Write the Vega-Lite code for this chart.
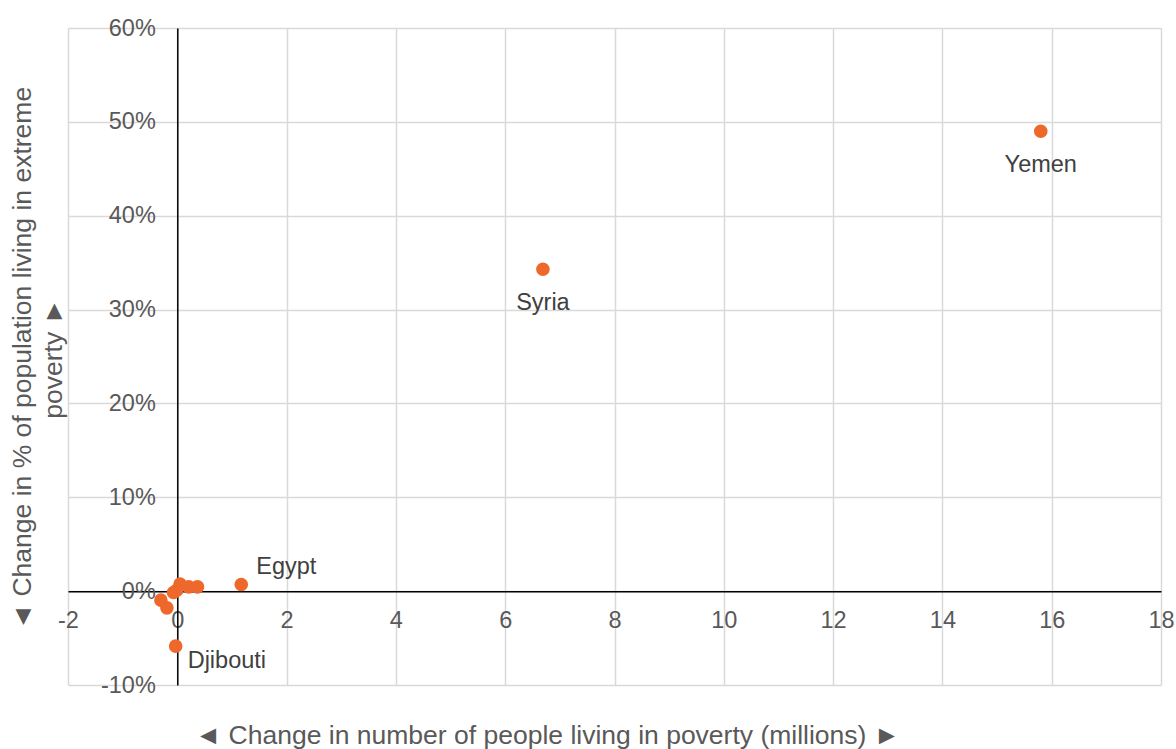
{
  "$schema": "https://vega.github.io/schema/vega-lite/v6.json",
  "autosize": {"type": "none"},
  "width": 1093,
  "height": 657,
  "padding": {"left": 68, "top": 28, "right": 15, "bottom": 64},
  "background": "white",
  "config": {
    "view": {"stroke": null},
    "font": "Liberation Sans",
    "axis": {
      "grid": true,
      "gridColor": "#d9d9d9",
      "gridWidth": 1.5,
      "domainColor": "#000000",
      "domainWidth": 1.5,
      "ticks": false,
      "tickSize": 0,
      "labelFont": "Liberation Sans",
      "labelFontSize": 23.5,
      "labelColor": "#595959",
      "labelFlush": false,
      "labelOverlap": false,
      "titleFont": "Liberation Sans",
      "titleFontSize": 26.5,
      "titleFontWeight": "normal",
      "titleColor": "#595959"
    }
  },
  "data": {
    "values": [
      {"country": "Yemen", "dpeople": 15.8, "dshare": 0.49},
      {"country": "Syria", "dpeople": 6.69, "dshare": 0.343},
      {"country": "Egypt", "dpeople": 1.17, "dshare": 0.0071},
      {"country": "Djibouti", "dpeople": -0.03, "dshare": -0.0586},
      {"country": "", "dpeople": 0.05, "dshare": 0.0075},
      {"country": "", "dpeople": 0.21, "dshare": 0.0046},
      {"country": "", "dpeople": 0.37, "dshare": 0.0046},
      {"country": "", "dpeople": -0.01, "dshare": 0.001},
      {"country": "", "dpeople": -0.07, "dshare": -0.0015},
      {"country": "", "dpeople": -0.3, "dshare": -0.0096},
      {"country": "", "dpeople": -0.19, "dshare": -0.0178}
    ]
  },
  "encoding": {
    "x": {
      "field": "dpeople",
      "type": "quantitative",
      "scale": {"domain": [-2, 18], "nice": false, "zero": false},
      "axis": {
        "values": [-2, 0, 2, 4, 6, 8, 10, 12, 14, 16, 18],
        "labelExpr": "replace(datum.label, '−', '-')",
        "offset": -93.86,
        "labelPadding": 17,
        "title": "◄ Change in number of people living in poverty (millions) ►",
        "titleX": 479,
        "titleY": 152,
        "titleAlign": "center",
        "titleBaseline": "alphabetic",
        "titleAnchor": null
      }
    },
    "y": {
      "field": "dshare",
      "type": "quantitative",
      "scale": {"domain": [-0.1, 0.6], "nice": false, "zero": false},
      "axis": {
        "values": [-0.1, 0, 0.1, 0.2, 0.3, 0.4, 0.5, 0.6],
        "format": ".0%",
        "labelExpr": "replace(datum.label, '−', '-')",
        "offset": -109.3,
        "labelPadding": 22,
        "title": ["◄ Change in % of population living in extreme", "poverty ►"],
        "titleAngle": -90,
        "titleX": -168,
        "titleY": 330,
        "titleAlign": "center",
        "titleBaseline": "top",
        "titleLineHeight": 31
      }
    }
  },
  "layer": [
    {
      "mark": {"type": "point", "filled": true, "opacity": 1, "size": 185, "color": "#EE682B"}
    },
    {
      "transform": [{"filter": "datum.country === 'Yemen' || datum.country === 'Syria'"}],
      "mark": {"type": "text", "align": "center", "baseline": "middle", "dy": 34, "fontSize": 23.5, "color": "#404040"},
      "encoding": {"text": {"field": "country"}}
    },
    {
      "transform": [{"filter": "datum.country === 'Egypt'"}],
      "mark": {"type": "text", "align": "left", "baseline": "middle", "dx": 15, "dy": -17, "fontSize": 23.5, "color": "#404040"},
      "encoding": {"text": {"field": "country"}}
    },
    {
      "transform": [{"filter": "datum.country === 'Djibouti'"}],
      "mark": {"type": "text", "align": "left", "baseline": "middle", "dx": 12, "dy": 15, "fontSize": 23.5, "color": "#404040"},
      "encoding": {"text": {"field": "country"}}
    }
  ]
}
